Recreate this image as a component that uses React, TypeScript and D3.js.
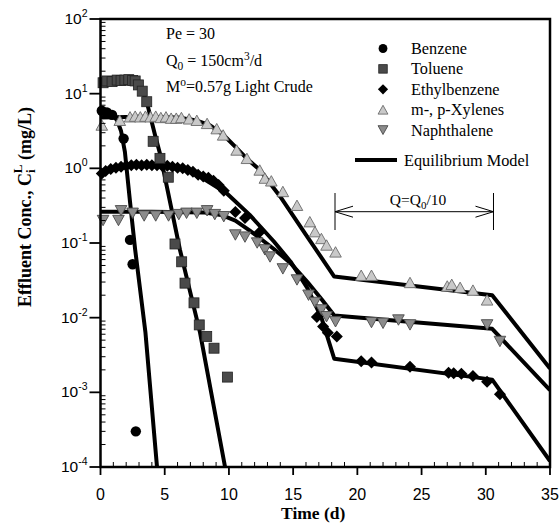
import React from "react";
import * as d3 from "d3";

// ---------- data ----------
const xTicks = [0, 5, 10, 15, 20, 25, 30, 35];
const yTickExps = [-4, -3, -2, -1, 0, 1, 2];

const benzeneT = [0.1, 0.5, 0.9, 1.8, 2.3, 2.5, 2.75];
const benzeneV = [5.9, 5.6, 5.2, 2.5, 0.11, 0.052, 0.0003];

const tolueneT = [0.2, 0.5, 0.9, 1.3, 1.6, 1.9, 2.2, 2.5, 2.7, 2.95, 3.25, 3.6, 4.1, 4.63, 5.28, 5.8, 6.32, 6.58, 7.28, 7.69, 8.27, 8.84, 9.88];
const tolueneV = [14.0, 14.8, 14.5, 15.2, 15.0, 15.2, 15.4, 15.0, 14.8, 13.1, 10.8, 7.8, 2.3, 1.36, 0.76, 0.097, 0.056, 0.029, 0.0158, 0.008, 0.0056, 0.0039, 0.0016];

const ethylT = [0.1, 0.4, 0.8, 1.2, 1.6, 2.0, 2.4, 2.8, 3.2, 3.6, 4.0, 4.4, 4.8, 5.2, 5.6, 6.0, 6.4, 6.8, 7.2, 7.6, 8.0, 8.4, 8.8, 9.2, 9.6, 10.5, 11.25, 12.4, 16.85, 17.33, 17.7, 18.4, 20.3, 21.1, 24.1, 27.1, 27.5, 28.1, 29.0, 30.1, 31.1];
const ethylV = [0.85, 0.92, 0.98, 1.02, 1.05, 1.08, 1.1, 1.12, 1.1, 1.12, 1.1, 1.1, 1.08, 1.08, 1.05, 1.02, 1.0, 0.95, 0.9, 0.82, 0.78, 0.75, 0.68, 0.6, 0.5, 0.26, 0.216, 0.14, 0.0102, 0.0076, 0.0063, 0.0056, 0.0026, 0.0025, 0.0022, 0.00183, 0.0018, 0.00178, 0.00166, 0.00139, 0.00094];

const xyleneT = [0.1, 1.5, 2.3, 2.7, 3.1, 3.5, 3.9, 4.3, 4.7, 5.1, 5.5, 5.9, 6.3, 6.9, 7.5, 8.3, 9.05, 9.55, 10.6, 11.4, 12.4, 12.8, 13.3, 14.2, 15.3, 16.3, 16.7, 17.2, 17.6, 18.3, 20.3, 21.1, 24.1, 27.0, 27.35, 28.0, 29.0, 30.1];
const xyleneV = [3.8, 4.4, 4.9, 5.0, 4.9, 5.0, 4.9, 5.0, 4.8, 4.9, 4.7, 4.7, 4.8, 4.6, 4.4, 4.0, 3.4, 2.8, 1.76, 1.36, 0.95, 0.74, 0.68, 0.49, 0.32, 0.193, 0.142, 0.115, 0.094, 0.076, 0.037, 0.037, 0.0296, 0.0266, 0.028, 0.0255, 0.0234, 0.0173];

const naphT = [0.2, 1.4, 1.6, 2.5, 3.4, 4.3, 5.3, 6.1, 6.7, 7.5, 8.3, 8.9, 9.6, 10.5, 11.25, 12.2, 12.8, 13.2, 14.2, 15.3, 16.2, 16.7, 17.2, 17.6, 18.3, 21.1, 22.0, 23.2, 24.1, 30.1, 31.1];
const naphV = [0.2, 0.2, 0.27, 0.25, 0.23, 0.23, 0.23, 0.24, 0.25, 0.25, 0.27, 0.24, 0.225, 0.128, 0.12, 0.1, 0.081, 0.065, 0.045, 0.032, 0.02, 0.016, 0.0127, 0.0103, 0.0088, 0.0086, 0.0084, 0.0093, 0.008, 0.008, 0.0048];

// equilibrium model curves (time, log10 conc)
const modelBenzeneT = [0, 0.5, 1.0, 1.3, 1.6, 1.9, 2.3, 2.7, 3.5, 4.4];
const modelBenzeneL = [0.74, 0.73, 0.7, 0.64, 0.5, 0.22, -0.45, -1.09, -2.2, -4];
const modelTolueneT = [0, 1, 2, 2.5, 3.0, 3.3, 3.6, 4.24, 4.63, 6.19, 7.75, 9.7];
const modelTolueneL = [1.15, 1.18, 1.18, 1.16, 1.1, 1.02, 0.89, 0.45, 0.2, -1.094, -2.2, -4];
const modelEthylT = [0, 1, 3, 5, 6.5, 7.75, 9.8, 11.6, 13.5, 14.8, 16.1, 17.2, 18.2, 30.5, 35];
const modelEthylL = [-0.05, 0.0, 0.045, 0.045, 0.0, -0.11, -0.33, -0.62, -0.98, -1.25, -1.6, -2.0, -2.55, -2.83, -3.92];
const modelXyleneT = [0, 3, 6, 7.5, 8.5, 9.5, 10.6, 11.4, 12.4, 14.0, 16.0, 18.2, 30.5, 35];
const modelXyleneL = [0.68, 0.69, 0.68, 0.64, 0.58, 0.46, 0.27, 0.13, -0.02, -0.38, -0.89, -1.45, -1.7, -2.68];
const modelNaphT = [0, 4, 8, 9.5, 10.5, 11.6, 13.5, 14.8, 16.1, 17.2, 18.2, 30.5, 35];
const modelNaphL = [-0.58, -0.58, -0.59, -0.63, -0.7, -0.83, -1.08, -1.27, -1.52, -1.75, -1.97, -2.15, -2.97];

const legendLabels = ["Benzene", "Toluene", "Ethylbenzene", "m-, p-Xylenes", "Naphthalene"];
const flowChangeT = [18.26, 30.6];

// ---------- layout ----------
const W = 560, H = 524;
const L = 100.5, R = 550, T = 19, B = 467;
const serif = "'Liberation Serif', 'Times New Roman', serif";
const sans = "'Liberation Sans', Arial, sans-serif";

const x = d3.scaleLinear().domain([0, 35]).range([L, R]);
const y = d3.scaleLog().domain([1e-4, 100]).range([B, T]);

const lineGen = d3.line<[number, number]>().x(d => x(d[0])).y(d => y(Math.pow(10, d[1])));

function zip(a: number[], b: number[]): [number, number][] {
  return a.map((v, i) => [v, b[i]]);
}

type Kind = "circle" | "square" | "diamond" | "up" | "down";

function Marker({ kind, cx, cy, s = 1 }: { kind: Kind; cx: number; cy: number; s?: number }) {
  if (kind === "circle") return <circle cx={cx} cy={cy} r={5.2 * s} fill="#000" />;
  if (kind === "square") {
    const h = 5 * s;
    return <rect x={cx - h} y={cy - h} width={2 * h} height={2 * h} fill="#4a4a4a" stroke="#222" strokeWidth={0.8} />;
  }
  if (kind === "diamond") {
    const h = 6 * s;
    return <path d={`M${cx},${cy - h}L${cx + h},${cy}L${cx},${cy + h}L${cx - h},${cy}Z`} fill="#000" />;
  }
  const hw = 5.8 * s, hh = 5.2 * s;
  if (kind === "up")
    return <path d={`M${cx},${cy - hh}L${cx + hw},${cy + hh}L${cx - hw},${cy + hh}Z`} fill="#c9c9c9" stroke="#6a6a6a" strokeWidth={0.9} />;
  return <path d={`M${cx},${cy + hh}L${cx + hw},${cy - hh}L${cx - hw},${cy - hh}Z`} fill="#8c8c8c" stroke="#4a4a4a" strokeWidth={0.9} />;
}

export default function App() {
  const series: { t: number[]; v: number[]; kind: Kind }[] = [
    { t: naphT, v: naphV, kind: "down" },
    { t: xyleneT, v: xyleneV, kind: "up" },
    { t: ethylT, v: ethylV, kind: "diamond" },
    { t: tolueneT, v: tolueneV, kind: "square" },
    { t: benzeneT, v: benzeneV, kind: "circle" },
  ];
  const models = [
    zip(modelBenzeneT, modelBenzeneL),
    zip(modelTolueneT, modelTolueneL),
    zip(modelEthylT, modelEthylL),
    zip(modelXyleneT, modelXyleneL),
    zip(modelNaphT, modelNaphL),
  ];
  const legendKinds: Kind[] = ["circle", "square", "diamond", "up", "down"];

  const minorY: number[] = [];
  for (let e = -4; e < 2; e++) for (let m = 2; m <= 9; m++) minorY.push(m * Math.pow(10, e));
  const minorX = d3.range(0, 36).filter(v => v % 5 !== 0);

  const ax1 = x(flowChangeT[0]), ax2 = x(flowChangeT[1]);
  const ay = 211.7;

  return (
    <svg width={W} height={H} style={{ position: "absolute", left: 0, top: 0, background: "#fff" }}>
      <defs>
        <clipPath id="plot">
          <rect x={L} y={T} width={R - L} height={B - T} />
        </clipPath>
      </defs>
      <rect width={W} height={H} fill="#fff" />

      {/* model lines */}
      <g clipPath="url(#plot)">
        {models.map((m, i) => (
          <path key={i} d={lineGen(m) || ""} fill="none" stroke="#000" strokeWidth={4} strokeLinejoin="round" />
        ))}
      </g>

      {/* data */}
      {series.map((s, i) => (
        <g key={i}>
          {s.t.map((t, j) => (
            <Marker key={j} kind={s.kind} cx={x(t)} cy={y(s.v[j])} />
          ))}
        </g>
      ))}

      {/* frame */}
      <rect x={L} y={T} width={R - L} height={B - T} fill="none" stroke="#000" strokeWidth={2.5} />

      {/* y ticks */}
      {yTickExps.map(e => (
        <g key={e}>
          <line x1={L - 11} x2={L} y1={y(Math.pow(10, e))} y2={y(Math.pow(10, e))} stroke="#000" strokeWidth={1.8} />
          <text x={L - 13} y={y(Math.pow(10, e)) + 5} textAnchor="end" fontFamily={sans} fontSize={15.5}>
            10<tspan dy={-7} fontSize={10.5}>{e}</tspan>
          </text>
        </g>
      ))}
      {minorY.map((v, i) => (
        <line key={i} x1={L} x2={L + 5} y1={y(v)} y2={y(v)} stroke="#000" strokeWidth={1} />
      ))}

      {/* x ticks */}
      {xTicks.map(t => (
        <g key={t}>
          <line x1={x(t)} x2={x(t)} y1={B} y2={B + 8} stroke="#000" strokeWidth={1.8} />
          <text x={x(t)} y={499.5} textAnchor="middle" fontFamily={sans} fontSize={16}>{t}</text>
        </g>
      ))}
      {minorX.map(t => (
        <line key={t} x1={x(t)} x2={x(t)} y1={B} y2={B - 5} stroke="#000" strokeWidth={1} />
      ))}

      {/* axis titles */}
      <text x={(L + R) / 2 - 12} y={519} textAnchor="middle" fontFamily={serif} fontWeight="bold" fontSize={17.5}>Time (d)</text>
      <text transform={`translate(31,207) rotate(-90)`} textAnchor="middle" fontFamily={serif} fontWeight="bold" fontSize={18}>
        Effluent Conc., C<tspan dy={4} fontSize={13}>i</tspan><tspan dx={-4} dy={-13} fontSize={13}>L</tspan><tspan dy={9}> (mg/L)</tspan>
      </text>

      {/* annotations */}
      <g fontFamily={serif} fontSize={16}>
        <text x={166} y={39}>Pe = 30</text>
        <text x={166} y={66}>Q<tspan dy={4} fontSize={11.5}>0</tspan><tspan dy={-4}> = 150cm</tspan><tspan dy={-6} fontSize={11.5}>3</tspan><tspan dy={6}>/d</tspan></text>
        <text x={166} y={92}>M<tspan dy={-6} fontSize={11.5}>o</tspan><tspan dy={6}>=0.57g Light Crude</tspan></text>
      </g>

      {/* legend */}
      <g fontFamily={serif} fontSize={16.3}>
        {legendLabels.map((lab, i) => (
          <g key={lab}>
            <Marker kind={legendKinds[i]} cx={383} cy={48.5 + i * 20.4} s={0.85} />
            <text x={411} y={54 + i * 20.4}>{lab}</text>
          </g>
        ))}
        <line x1={355} x2={397} y1={160} y2={160} stroke="#000" strokeWidth={4} />
        <text x={404} y={165.5}>Equilibrium Model</text>
      </g>

      {/* flow change arrow */}
      <g stroke="#000" strokeWidth={1} fill="none">
        <line x1={ax1} x2={ax1} y1={193} y2={230} />
        <line x1={ax2} x2={ax2} y1={193} y2={230} />
        <line x1={ax1} x2={ax2} y1={ay} y2={ay} />
        <path d={`M${ax1 + 18},${ay - 5.5}L${ax1},${ay}L${ax1 + 18},${ay + 5.5}`} />
        <path d={`M${ax2 - 18},${ay - 5.5}L${ax2},${ay}L${ax2 - 18},${ay + 5.5}`} />
      </g>
      <text x={418} y={205} textAnchor="middle" fontFamily={serif} fontSize={15.5}>
        Q=Q<tspan dy={4} fontSize={11}>0</tspan><tspan dy={-4}>/10</tspan>
      </text>
    </svg>
  );
}
